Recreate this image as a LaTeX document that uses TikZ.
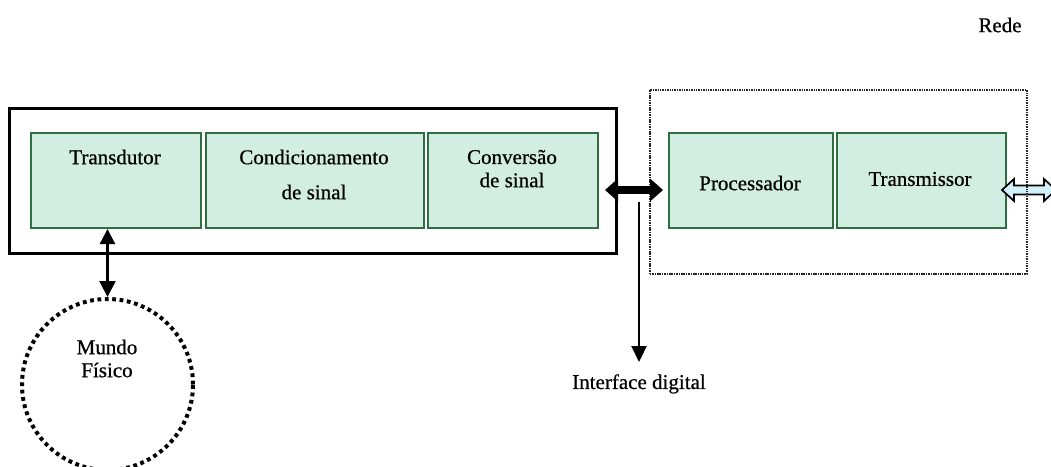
\documentclass[tikz,border=0pt]{standalone}
\usepackage{fontspec}
\setmainfont{Liberation Serif}[FakeBold=0.6]
\usetikzlibrary{arrows.meta,calc}
\definecolor{boxfill}{HTML}{D2EDE1}
\definecolor{boxline}{HTML}{2F6E40}
\definecolor{netfill}{HTML}{D2F1FA}
\begin{document}
\begin{tikzpicture}[x=1pt,y=-1pt,
  every node/.style={font=\fontsize{21}{24}\selectfont, inner sep=0pt},
  block/.style={draw=boxline, line width=2pt, fill=boxfill, anchor=north west, minimum height=95},
  frame/.style={draw=black, line width=2.5pt, anchor=north west},
  group/.style={draw=black!85, line width=1.7pt, dash pattern=on 1.5pt off 0.9pt, anchor=north west},
  world/.style={circle, draw=black, line width=4pt, dash pattern=on 3.8pt off 3.6pt, minimum size=171},
  link/.style={line width=2.2pt},
  bus/.style={line width=7.5pt, {Triangle[length=13pt,width=23pt,line width=0pt]}-{Triangle[length=13pt,width=23pt,line width=0pt]}},
  netarrow/.style={draw=black, line width=1.7pt, fill=netfill, line join=miter}]
\useasboundingbox (0,0) rectangle (1051,466);

% sensor housing
\node[frame, minimum width=607, minimum height=145] (sensor) at (8,107) {};

% signal chain blocks
\node[block, minimum width=170] (td) at (30,132) {};
\node[block, minimum width=218] (cd) at (205,132) {};
\node[block, minimum width=170] (cv) at (427,132) {};
\node[block, minimum width=164] (pr) at (668,132) {};
\node[block, minimum width=169] (tx) at (836,132) {};

% block labels
\node (tdT) at (115,157) {Transdutor};
\node (cdT1) at (314,157) {Condicionamento};
\node (cdT2) at (314,192) {de sinal};
\node (cvT1) at (512,157) {Conversão};
\node (cvT2) at (512,180) {de sinal};
\node (prT) at (750,183) {Processador};
\node (txT) at (920,179) {Transmissor};

% network side
\node (rede) at (1000,25) {Rede};
\coordinate (netL) at ($(tx.east)+(-5,9.5)$);
\draw[netarrow] (netL) -- ++(12,-11) -- ++(0,6.5) -- ++(30,0) -- ++(0,-6.5)
  -- ++(12,11) -- ++(-12,11) -- ++(0,-6.5) -- ++(-30,0) -- ++(0,6.5) -- cycle;

% digital communication group
\node[group, minimum width=377, minimum height=184] (digi) at (649,89) {};

% physical world
\node[world] (mf) at (107.5,384.5) {};
\node (mfT1) at (107,347) {Mundo};
\node (mfT2) at (107,370) {Físico};
\draw[link, {Triangle[length=15pt,width=15pt]}-{Triangle[length=16pt,width=16pt]}]
  (mf.north |- td.south) -- (mf.north);

% digital bus between converter and processor
\coordinate (busL) at ($(cv.east)+(6,9.5)$);
\coordinate (busR) at ($(pr.west)+(-5,9.5)$);
\draw[bus] (busL) -- (busR);

% digital interface tap
\node[anchor=north] (idig) at (639,374) {Interface digital};
\coordinate (tap) at (idig.north |- 0,202);
\draw[link, -{Triangle[length=16pt,width=15pt]}, shorten >=12pt] (tap) -- (idig.north);
\end{tikzpicture}
\end{document}
